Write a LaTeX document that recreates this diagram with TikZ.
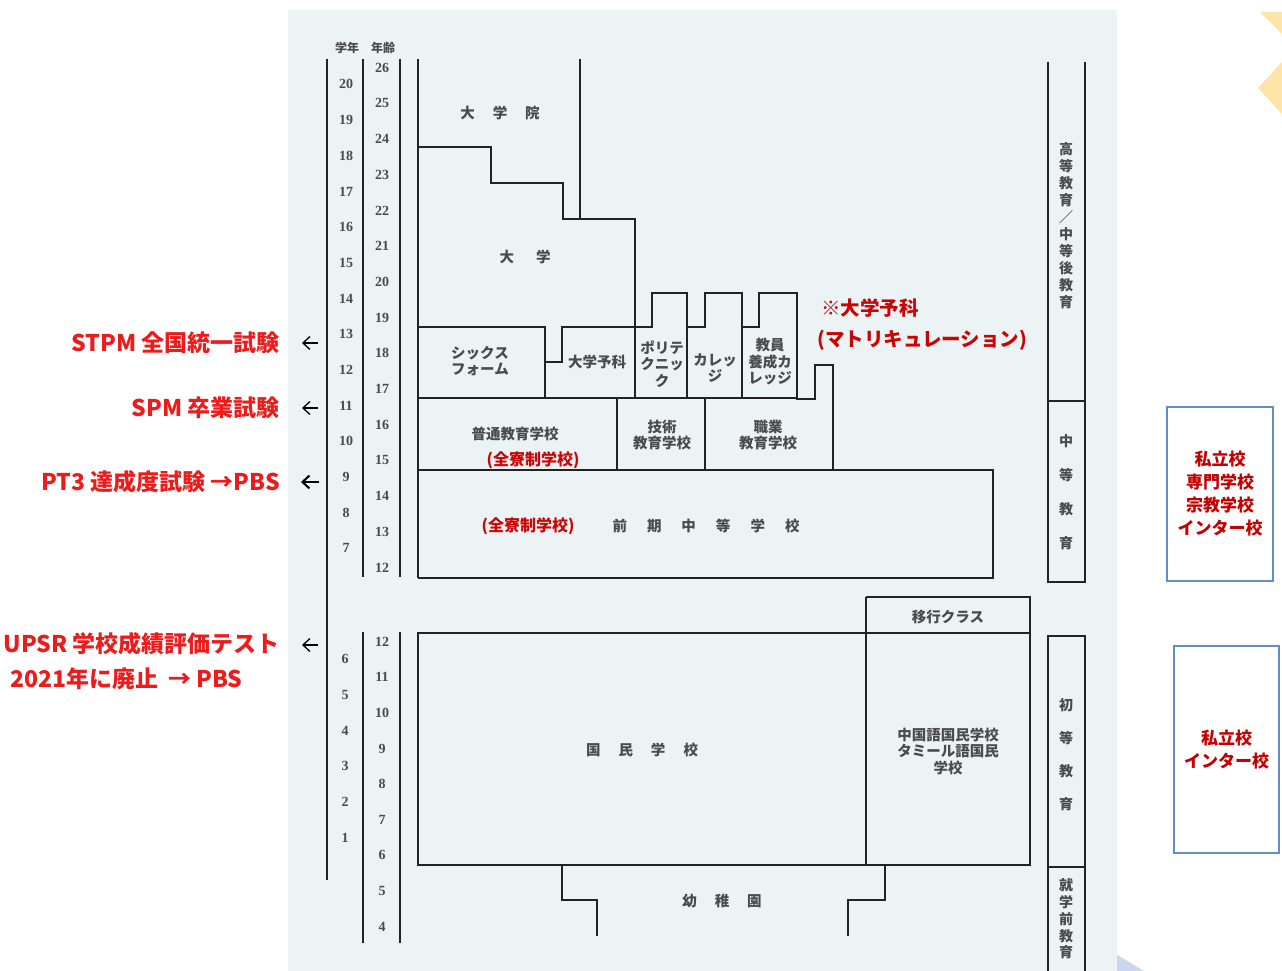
\documentclass[tikz,border=0pt]{standalone}
\usepackage{fontspec}
\setmainfont{Liberation Serif}
\newfontfamily\jp{Noto Sans CJK JP}
\usetikzlibrary{arrows.meta}
\definecolor{panel}{RGB}{235,243,245}
\definecolor{ink}{RGB}{35,35,35}
\definecolor{txtink}{RGB}{75,75,75}
\definecolor{redA}{RGB}{236,28,28}
\definecolor{redB}{RGB}{196,0,0}
\definecolor{boxblue}{RGB}{100,140,205}
\definecolor{deco}{RGB}{253,228,168}
\definecolor{decob}{RGB}{200,214,240}
\begin{document}
\begin{tikzpicture}[x=1pt,y=-1pt,
  ln/.style={line width=2pt, draw=ink, line join=miter},
  lbl/.style={font=\jp\bfseries\fontsize{14.5}{16.5}\selectfont, text=txtink, align=center, inner sep=0pt},
  vlbl/.style={font=\jp\bfseries\fontsize{14}{17}\selectfont, text=txtink, align=center, inner sep=0pt},
  num/.style={font=\bfseries\fontsize{14}{14}\selectfont, text=txtink, inner sep=0pt},
  hdr/.style={font=\jp\bfseries\fontsize{12}{12}\selectfont, text=txtink, inner sep=0pt},
  exam/.style={font=\jp\bfseries\fontsize{23}{27}\selectfont, text=redA, inner sep=0pt},
  inred/.style={font=\jp\bfseries\fontsize{16}{18}\selectfont, text=redB!80!redA, inner sep=0pt},
  note/.style={font=\jp\bfseries\fontsize{19.5}{24}\selectfont, text=redB!85!redA, inner sep=0pt, anchor=west},
  pbox/.style={draw=boxblue, line width=1.2pt, fill=white, font=\jp\bfseries\fontsize{17}{23}\selectfont, text=redB, align=center, inner sep=0pt},
  exarrow/.style={line width=1.3pt, draw=black, -{Straight Barb[length=7pt,width=13pt]}}
]
\useasboundingbox (0,0) rectangle (1282,971);
\fill[white] (0,0) rectangle (1282,971);
% decorations of the slide
\fill[deco] (1260,12) -- (1282,12) -- (1282,34) -- cycle;
\fill[deco] (1258,88) -- (1282,62) -- (1282,114) -- cycle;
\fill[decob] (1114,953) -- (1144,971) -- (1114,971) -- cycle;
% scanned panel
\fill[panel] (288,10) rectangle (1117,971);

% ---- scale columns ----
\draw[ln] (327,59) -- (327,880);
\draw[ln] (363,59) -- (363,577);
\draw[ln] (400,59) -- (400,577);
\draw[ln] (363,632) -- (363,943);
\draw[ln] (400,632) -- (400,943);
\node[hdr] (hgrade) at (347,48) {学年};
\node[hdr] (hage) at (383,48) {年齢};
\foreach \a in {12,...,26}{
  \pgfmathsetmacro{\yy}{67.7+(26-\a)*35.7}
  \node[num] (ua\a) at (382,\yy) {\a};
}
\foreach \g in {7,...,20}{
  \pgfmathsetmacro{\yy}{84.3+(20-\g)*35.7}
  \node[num] (ug\g) at (346,\yy) {\g};
}
\foreach \a in {4,...,12}{
  \pgfmathsetmacro{\yy}{641.7+(12-\a)*35.6}
  \node[num] (la\a) at (382,\yy) {\a};
}
\foreach \g in {1,...,6}{
  \pgfmathsetmacro{\yy}{659+(6-\g)*35.7}
  \node[num] (lg\g) at (345,\yy) {\g};
}

% ---- upper structure ----
\draw[ln] (418,59) -- (418,578);
\draw[ln] (418,147) -- (491,147) -- (491,183) -- (563,183) -- (563,219) -- (635,219) -- (635,398);
\draw[ln] (580,59) -- (580,219);
\draw[ln] (418,327) -- (545,327) -- (545,398);
\draw[ln] (545,362) -- (562,362) -- (562,327) -- (652,327) -- (652,293) -- (687,293) -- (687,398);
\draw[ln] (687,327) -- (705,327) -- (705,293) -- (742,293) -- (742,398);
\draw[ln] (742,327) -- (759,327) -- (759,293) -- (797,293) -- (797,399) -- (815,399) -- (815,365) -- (833,365) -- (833,470);
\draw[ln] (418,398) -- (797,398);
\draw[ln] (617,398) -- (617,470);
\draw[ln] (705,398) -- (705,470);
\draw[ln] (418,470) -- (993,470) -- (993,578) -- (418,578);

\node[lbl] (daigakuin) at (500,113) {大\hspace{18pt}学\hspace{18pt}院};
\node[lbl] (daigaku) at (525,257) {大\hspace{22pt}学};
\node[lbl] (sixth) at (480,361) {シックス\\フォーム};
\node[lbl] (yoka) at (597,362) {大学予科};
\node[lbl] (poly) at (662,364) {ポリテ\\クニッ\\ク};
\node[lbl] (college) at (715,368) {カレッ\\ジ};
\node[lbl] (teacher) at (770,362) {教員\\養成カ\\レッジ};
\node[lbl] (futsu) at (515,434) {普通教育学校};
\node[inred] (ryo1) at (533,460) {(全寮制学校)};
\node[lbl] (gijutsu) at (662,435) {技術\\教育学校};
\node[lbl] (shokugyo) at (768,435) {職業\\教育学校};
\node[inred] (ryo2) at (528,526) {(全寮制学校)};
\node[lbl] (zenki) at (706,526) {前\hspace{20pt}期\hspace{20pt}中\hspace{20pt}等\hspace{20pt}学\hspace{20pt}校};
\node[note] (matric1) at (821,308) {※大学予科};
\node[note] (matric2) at (817,340) {(マトリキュレーション)};

% ---- lower structure ----
\draw[ln] (866,597) -- (1030,597) -- (1030,865) -- (418,865) -- (418,633) -- (1030,633);
\draw[ln] (866,597) -- (866,865);
\draw[ln] (562,865) -- (562,900) -- (597,900) -- (597,936);
\draw[ln] (885,865) -- (885,900) -- (848,900) -- (848,936);
\node[lbl] (ikou) at (948,617) {移行クラス};
\node[lbl] (kokumin) at (642,750) {国\hspace{18pt}民\hspace{18pt}学\hspace{18pt}校};
\node[lbl] (chinese) at (948,751) {中国語国民学校\\タミール語国民\\学校};
\node[lbl] (youchien) at (722,901) {幼\hspace{18pt}稚\hspace{18pt}園};

% ---- right bars ----
\draw[ln] (1048,62) -- (1048,582) -- (1085,582) -- (1085,62);
\draw[ln] (1048,401) -- (1085,401);
\draw[ln] (1048,971) -- (1048,636) -- (1085,636) -- (1085,971);
\draw[ln] (1048,867) -- (1085,867);
\node[vlbl] (koto) at (1066,226) {高\\等\\教\\育\\／\\中\\等\\後\\教\\育};
\node[vlbl, font=\jp\bfseries\fontsize{14}{34}\selectfont] (chuto) at (1066,492) {中\\等\\教\\育};
\node[vlbl, font=\jp\bfseries\fontsize{14}{33}\selectfont] (shoto) at (1066,755) {初\\等\\教\\育};
\node[vlbl, font=\jp\bfseries\fontsize{14}{16.7}\selectfont] (shugaku) at (1066,919) {就\\学\\前\\教\\育};

% ---- private school boxes ----
\node[pbox, minimum width=106pt, minimum height=174pt] (priv1) at (1220,494) {私立校\\専門学校\\宗教学校\\インター校};
\node[pbox, minimum width=105pt, minimum height=207pt] (priv2) at (1226.5,749.5) {私立校\\インター校};

% ---- exam labels ----
\node[exam, anchor=east] (stpm) at (280,343) {STPM 全国統一試験};
\node[exam, anchor=east] (spm) at (280,408) {SPM 卒業試験};
\node[exam, anchor=east] (pt3) at (280,482) {PT3 達成度試験 →PBS};
\node[exam, anchor=east] (upsr) at (280,644) {UPSR 学校成績評価テスト};
\node[exam, anchor=west] (upsr2) at (10,679) {2021年に廃止\hspace{10pt}→ PBS};
\coordinate (e1s) at (318,343); \coordinate (e1e) at (302,343);
\coordinate (e2s) at (318,408); \coordinate (e2e) at (302,408);
\coordinate (e3s) at (319,482); \coordinate (e3e) at (301,482);
\coordinate (e4s) at (318,645); \coordinate (e4e) at (302,645);
\draw[exarrow] (e1s) -- (e1e);
\draw[exarrow] (e2s) -- (e2e);
\draw[exarrow, line width=2pt] (e3s) -- (e3e);
\draw[exarrow] (e4s) -- (e4e);
\end{tikzpicture}
\end{document}
